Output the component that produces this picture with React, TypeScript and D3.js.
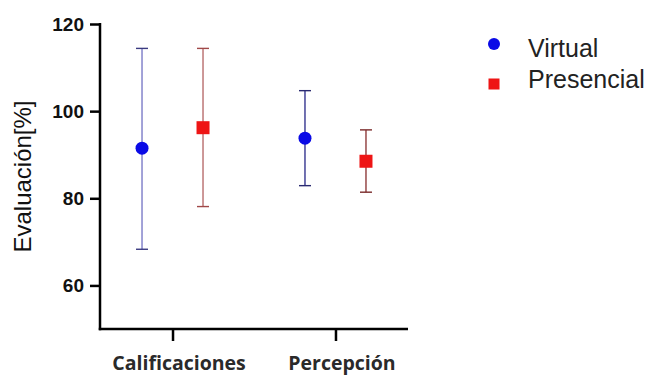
import React, { useRef, useEffect } from "react";
import * as d3 from "d3";

const categories = ["Calificaciones", "Percepción"];
const series = ["Virtual", "Presencial"];
const means = { Virtual: [91.5, 93.8], Presencial: [96.2, 88.5] };
const upper = { Virtual: [114.4, 104.7], Presencial: [114.4, 95.7] };
const lower = { Virtual: [68.3, 82.9], Presencial: [78.1, 81.4] };
const yTicks = [60, 80, 100, 120];

const markerColor = { Virtual: "#0a0ae6", Presencial: "#ee1515" };
// error bar line colours per category
const barColor = {
  Virtual: ["#7b7bc8", "#34348f"],
  Presencial: ["#b86c6c", "#8e3a3a"],
};
const capColor = {
  Virtual: ["#3a3a80", "#2a2a70"],
  Presencial: ["#a04848", "#7a2a2a"],
};

const width = 646;
const height = 377;

const App = () => {
  const svgRef = useRef<SVGSVGElement>(null);

  useEffect(() => {
    document.body.style.margin = "0";
    const svg = d3.select(svgRef.current);
    svg.selectAll("*").remove();

    const x0 = 100;
    const x1 = 408;
    const yBottom = 329;

    const y = d3.scaleLinear().domain([50, 120]).range([yBottom, 24]);
    const x = d3.scalePoint().domain(categories).range([x0, x1]).padding(0.445);
    const xs = d3.scalePoint().domain(series).range([-30.5, 30.5]);

    const g = svg.append("g");

    // error bars
    series.forEach((s) => {
      categories.forEach((c, i) => {
        const cx = (x(c) as number) + (xs(s) as number);
        g.append("line")
          .attr("x1", cx)
          .attr("x2", cx)
          .attr("y1", y(upper[s][i]))
          .attr("y2", y(lower[s][i]))
          .attr("stroke", barColor[s][i])
          .attr("stroke-width", 1.4);
        [upper[s][i], lower[s][i]].forEach((v) => {
          g.append("line")
            .attr("x1", cx - 6)
            .attr("x2", cx + 6)
            .attr("y1", y(v))
            .attr("y2", y(v))
            .attr("stroke", capColor[s][i])
            .attr("stroke-width", 1.4);
        });
        if (s === "Virtual") {
          g.append("circle")
            .attr("cx", cx)
            .attr("cy", y(means[s][i]))
            .attr("r", 6.5)
            .attr("fill", markerColor[s]);
        } else {
          g.append("rect")
            .attr("x", cx - 6.5)
            .attr("y", y(means[s][i]) - 6.5)
            .attr("width", 13)
            .attr("height", 13)
            .attr("fill", markerColor[s]);
        }
      });
    });

    // y axis
    const yAxis = g
      .append("g")
      .attr("transform", `translate(${x0},0)`)
      .call(d3.axisLeft(y).tickValues(yTicks).tickSize(10).tickPadding(6));
    yAxis.select(".domain").remove();
    yAxis.selectAll(".tick line").attr("stroke", "#000").attr("stroke-width", 2.5);
    yAxis
      .selectAll(".tick text")
      .attr("fill", "#111")
      .style("font", "bold 19px 'Liberation Sans', Arial, sans-serif");
    g.append("line")
      .attr("x1", x0)
      .attr("x2", x0)
      .attr("y1", y(120) - 1)
      .attr("y2", yBottom + 1.25)
      .attr("stroke", "#000")
      .attr("stroke-width", 2.5);

    // x axis
    const xAxis = g
      .append("g")
      .attr("transform", `translate(0,${yBottom})`)
      .call(d3.axisBottom(x).tickSize(12));
    xAxis.select(".domain").remove();
    xAxis.selectAll(".tick line").attr("stroke", "#000").attr("stroke-width", 2.5);
    xAxis
      .selectAll(".tick text")
      .attr("fill", "#2a2a2a")
      .attr("x", 6)
      .attr("y", 41)
      .attr("dy", null)
      .style("font", "bold 19.5px 'Open Sans', sans-serif");
    g.append("line")
      .attr("x1", x0 - 1.25)
      .attr("x2", x1)
      .attr("y1", yBottom)
      .attr("y2", yBottom)
      .attr("stroke", "#000")
      .attr("stroke-width", 2.5);

    // y label
    g.append("text")
      .attr("transform", `translate(31,${(y(120) + yBottom) / 2}) rotate(-90)`)
      .attr("text-anchor", "middle")
      .attr("fill", "#111")
      .style("font", "24px 'Liberation Sans', Arial, sans-serif")
      .text("Evaluación[%]");

    // legend
    const legend = g.append("g").attr("transform", "translate(494,44)");
    series.forEach((s, i) => {
      const row = legend.append("g").attr("transform", `translate(0,${i * 40})`);
      if (s === "Virtual") {
        row.append("circle").attr("r", 6).attr("fill", markerColor[s]);
      } else {
        row
          .append("rect")
          .attr("x", -5.5)
          .attr("y", -5.5)
          .attr("width", 11)
          .attr("height", 11)
          .attr("fill", markerColor[s]);
      }
      row
        .append("text")
        .attr("x", 34)
        .attr("y", i === 0 ? 13 : 4)
        .attr("fill", "#222")
        .style("font", "25px 'Liberation Sans', Arial, sans-serif")
        .text(s);
    });
  }, []);

  return <svg ref={svgRef} width={width} height={height} style={{ display: "block", background: "#fff" }}></svg>;
};

export default App;
